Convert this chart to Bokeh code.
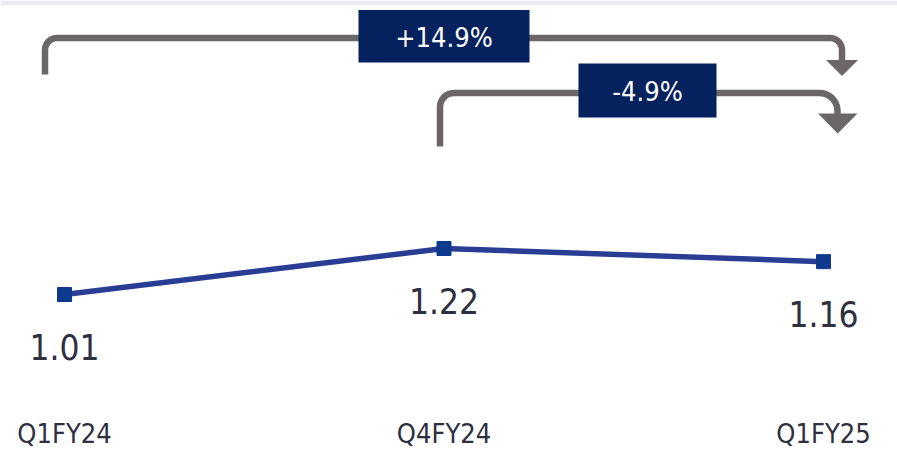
import numpy as np
from bokeh.plotting import figure
from bokeh.models import Range1d, ColumnDataSource
from bokeh.core.properties import value
from bokeh.embed import file_html
from bokeh.resources import INLINE

# ---- data ----
categories = ["Q1FY24", "Q4FY24", "Q1FY25"]
values = [1.01, 1.22, 1.16]
value_labels = ["1.01", "1.22", "1.16"]
change_labels = ["+14.9%", "-4.9%"]

FONT = "DejaVu Sans Condensed, Roboto, sans-serif"
W, H = 897, 454

# ---- scale setup (pixels per unit) ----
sx = 379.5
sy = 219.0
x0 = -64 / sx
x1 = 2 + (W - 823) / sx
y1 = values[0] + 294 / sy
y0 = y1 - H / sy


def X(px):
    return x0 + px / sx


def Y(py):
    return y1 - py / sy


p = figure(width=W, height=H, output_backend="svg", toolbar_location=None,
           x_range=Range1d(x0, x1), y_range=Range1d(y0, y1), min_border=0)
p.axis.visible = False
p.grid.visible = False
p.outline_line_color = None
p.background_fill_color = "white"
p.border_fill_color = "white"

# top grey band
p.quad(left=[x0], right=[x1], top=[y1], bottom=[Y(4.5)], fill_color="#e9ebee", line_color=None)

xs = list(range(len(categories)))
src = ColumnDataSource(dict(x=xs, y=values, lab=value_labels, cat=categories,
                            ly=[v - 52 / sy for v in values],
                            cy=[Y(433)] * len(categories)))

p.line("x", "y", source=src, line_color="#283d93", line_width=5.5)
p.scatter("x", "y", source=src, marker="square", size=14, fill_color="#0d3a8c", line_color="#0d3a8c")

p.text("x", "ly", text="lab", source=src, text_font=value(FONT), text_font_size="35px",
       text_align="center", text_baseline="middle", text_color="#2e2f3f")
p.text("x", "cy", text="cat", source=src, text_font=value(FONT), text_font_size="27px",
       text_align="center", text_baseline="middle", text_color="#2e2f3f")


def bracket(xl, yb, yh, xr, r1, r2, ya):
    pts_x, pts_y = [xl, xl], [yb, yh + r1]
    t = np.linspace(np.pi, 1.5 * np.pi, 12)
    pts_x += list(xl + r1 + r1 * np.cos(t))
    pts_y += list(yh + r1 + r1 * np.sin(t))
    t2 = np.linspace(1.5 * np.pi, 2 * np.pi, 12)
    pts_x += list(xr - r2 + r2 * np.cos(t2))
    pts_y += list(yh + r2 + r2 * np.sin(t2))
    pts_x += [xr]
    pts_y += [ya]
    return [X(v) for v in pts_x], [Y(v) for v in pts_y]


GRAY = "#6b6766"
NAVY = "#05215e"

# upper bracket (Q1FY24 -> Q1FY25)
bx, by = bracket(44.5, 74, 37.5, 841.5, 12, 12, 61)
p.line(bx, by, line_color=GRAY, line_width=6.5, line_cap="butt", line_join="round")
p.patch([X(825.5), X(857.5), X(841.5)], [Y(59.5), Y(59.5), Y(75.5)], fill_color=GRAY, line_color=None)

# lower bracket (Q4FY24 -> Q1FY25)
bx, by = bracket(439.5, 146, 92.5, 837, 14, 18, 114)
p.line(bx, by, line_color=GRAY, line_width=6.5, line_cap="butt", line_join="round")
p.patch([X(817.5), X(857), X(837.2)], [Y(113), Y(113), Y(133)], fill_color=GRAY, line_color=None)

# change boxes
p.quad(left=[X(358), X(578)], right=[X(529), X(716)], top=[Y(9.5), Y(63)], bottom=[Y(62), Y(117)],
       fill_color=NAVY, line_color=None)
p.text([X(443.5), X(647)], [Y(37), Y(91)], text=change_labels, text_font=value(FONT),
       text_font_size="27px", text_align="center", text_baseline="middle", text_color="white")

open("out.html", "w").write(file_html(p, INLINE))
